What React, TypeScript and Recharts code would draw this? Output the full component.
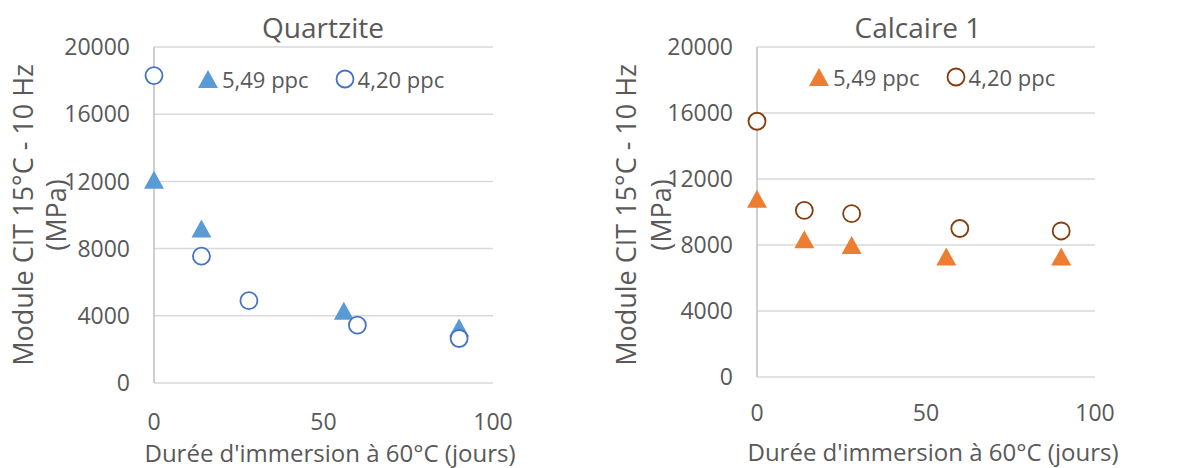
import { CartesianGrid, Legend, Scatter, ScatterChart, XAxis, YAxis } from "recharts";

const xTicks = [0, 50, 100];
const yTicks = [0, 4000, 8000, 12000, 16000, 20000];

const quartziteDays549 = [0, 14, 56, 90];
const quartziteModulus549 = [12100, 9200, 4300, 3300];
const quartziteDays420 = [0, 14, 28, 60, 90];
const quartziteModulus420 = [18300, 7550, 4900, 3450, 2650];

const calcaireDays549 = [0, 14, 28, 56, 90];
const calcaireModulus549 = [10800, 8350, 8000, 7300, 7300];
const calcaireDays420 = [0, 14, 28, 60, 90];
const calcaireModulus420 = [15500, 10100, 9900, 9000, 8850];

const seriesLabels = ["5,49 ppc", "4,20 ppc"];

const font = "'Open Sans', sans-serif";
const textColor = "#595959";

const toPoints = (xs: number[], ys: number[]) => xs.map((x, i) => ({ x, y: ys[i] }));

const triangle = (color: string) => (props: any) => {
  const { cx, cy } = props;
  return (
    <polygon
      points={`${cx},${cy - 9} ${cx + 10},${cy + 9} ${cx - 10},${cy + 9}`}
      fill={color}
    />
  );
};

const ring = (color: string) => (props: any) => {
  const { cx, cy } = props;
  return <circle cx={cx} cy={cy} r={8.5} fill="#fff" stroke={color} strokeWidth={1.8} />;
};

type PanelProps = {
  width: number;
  title: string;
  triColor: string;
  ringColor: string;
  tri: { x: number; y: number }[];
  rings: { x: number; y: number }[];
  top: number;
  right: number;
  xAxisHeight: number;
  yAxisWidth: number;
  titleX: number;
  yTitleX: number[];
  xTitleX: number;
  xTitleY: number;
  legendLeft: number;
  legendTop: number;
  xTickMargin: number;
};

const Panel = (p: PanelProps) => {
  const legend = () => (
    <div style={{ display: "flex", alignItems: "center", fontFamily: font, fontSize: 22, color: textColor }}>
      <svg width={20} height={20}>
        <polygon points="10,1 20,19 0,19" fill={p.triColor} />
      </svg>
      <span style={{ marginLeft: 4, marginRight: 26 }}>{seriesLabels[0]}</span>
      <svg width={20} height={20}>
        <circle cx={10} cy={10} r={8.5} fill="#fff" stroke={p.ringColor} strokeWidth={1.8} />
      </svg>
      <span style={{ marginLeft: 3 }}>{seriesLabels[1]}</span>
    </div>
  );

  return (
    <ScatterChart width={p.width} height={468} margin={{ top: p.top, right: p.right, left: 0, bottom: 0 }}>
      <CartesianGrid horizontal vertical={false} stroke="#d9d9d9" strokeWidth={1.5} />
      <XAxis
        type="number"
        dataKey="x"
        domain={[0, 100]}
        ticks={xTicks}
        axisLine={false}
        tickLine={false}
        tickMargin={p.xTickMargin}
        height={p.xAxisHeight}
        tick={{ fill: textColor, fontFamily: font, fontSize: 23 }}
      />
      <YAxis
        type="number"
        dataKey="y"
        domain={[0, 20000]}
        ticks={yTicks}
        axisLine={{ stroke: "#bfbfbf", strokeWidth: 1.5 }}
        tickLine={false}
        tickMargin={18}
        width={p.yAxisWidth}
        tick={{ fill: textColor, fontFamily: font, fontSize: 23 }}
      />
      <Legend
        content={legend}
        layout="horizontal"
        verticalAlign="middle"
        align="center"
        wrapperStyle={{ top: p.legendTop, left: p.legendLeft, width: "auto" }}
      />
      <Scatter name={seriesLabels[0]} data={p.tri} shape={triangle(p.triColor)} isAnimationActive={false} />
      <Scatter name={seriesLabels[1]} data={p.rings} shape={ring(p.ringColor)} isAnimationActive={false} />
      <text
        x={p.titleX}
        y={27}
        textAnchor="middle"
        dominantBaseline="central"
        fill={textColor}
        fontFamily={font}
        fontSize={28}
      >
        {p.title}
      </text>
      <text
        transform={`translate(${p.yTitleX[0]},215) rotate(-90)`}
        textAnchor="middle"
        dominantBaseline="central"
        fill={textColor}
        fontFamily={font}
        fontSize={27}
      >
        Module CIT 15°C - 10 Hz
      </text>
      <text
        transform={`translate(${p.yTitleX[1]},215) rotate(-90)`}
        textAnchor="middle"
        dominantBaseline="central"
        fill={textColor}
        fontFamily={font}
        fontSize={27}
      >
        (MPa)
      </text>
      <text
        x={p.xTitleX}
        y={p.xTitleY}
        textAnchor="middle"
        dominantBaseline="central"
        fill={textColor}
        fontFamily={font}
        fontSize={24}
      >
        Durée d'immersion à 60°C (jours)
      </text>
    </ScatterChart>
  );
};

export default function App() {
  return (
    <div style={{ position: "absolute", left: 0, top: 0, width: 1202, height: 468, display: "flex", background: "#fff" }}>
      <Panel
        width={600}
        title="Quartzite"
        triColor="#5b9bd5"
        ringColor="#4472c4"
        tri={toPoints(quartziteDays549, quartziteModulus549)}
        rings={toPoints(quartziteDays420, quartziteModulus420)}
        top={47}
        right={107}
        xAxisHeight={85}
        yAxisWidth={154}
        titleX={323}
        yTitleX={[22, 55]}
        xTitleX={330}
        xTitleY={452}
        legendLeft={198}
        legendTop={64}
        xTickMargin={25}
      />
      <Panel
        width={602}
        title="Calcaire 1"
        triColor="#ed7d31"
        ringColor="#843c0c"
        tri={toPoints(calcaireDays549, calcaireModulus549)}
        rings={toPoints(calcaireDays420, calcaireModulus420)}
        top={47}
        right={107}
        xAxisHeight={91}
        yAxisWidth={157}
        titleX={318}
        yTitleX={[25, 60]}
        xTitleX={333}
        xTitleY={451}
        legendLeft={209}
        legendTop={62}
        xTickMargin={22}
      />
    </div>
  );
}
